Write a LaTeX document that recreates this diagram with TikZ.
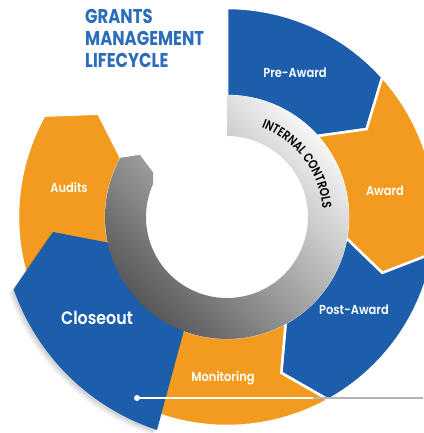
\documentclass[tikz,border=0pt]{standalone}
\usepackage{fontspec}
\setmainfont{Poppins}
\newfontfamily\labfont[FakeStretch=0.88]{Poppins SemiBold}
\newfontfamily\titlefont[FakeStretch=0.82]{Poppins}
\newfontfamily\ringfont[FakeStretch=0.8]{Poppins SemiBold}
\usetikzlibrary{decorations.text}
\definecolor{segblue}{HTML}{1C5EAC}
\definecolor{segorange}{HTML}{F39B1E}
\definecolor{titleblue}{HTML}{2B6DBA}
\definecolor{ringlight}{HTML}{F6F6F6}
\definecolor{ringmid}{HTML}{ABABAD}
\definecolor{ringdark}{HTML}{58585A}
\definecolor{linegray}{HTML}{B4B4B4}
\def\Rin{121pt}
\def\Rout{209pt}
\def\Rmid{165pt}
\def\Dt{9.8}
\newcommand\segment[3]{\path[seg,fill=#3] (#1:\Rout) arc[start angle=#1,end angle=#2,radius=\Rout] -- ({#2-\Dt}:\Rmid) -- (#2:\Rin) arc[start angle=#2,end angle=#1,radius=\Rin] -- ({#1-\Dt}:\Rmid) -- cycle;}
\newcommand\closeoutshape{(-70,-213) arc[start angle=251.8,end angle=199.3,radius=227pt] -- (-174,-15) -- (-117,-26) arc[start angle=192.5,end angle=248.7,radius=121pt] -- cycle}
\begin{document}
\begin{tikzpicture}[x=1pt,y=1pt,
  seg/.style={draw=white, line width=2.5pt, line join=miter},
  lab/.style={text=white, font=\labfont\fontsize{13}{15}\selectfont, inner sep=0pt}]
\useasboundingbox (-227,-216) rectangle (196,217);
% Pre-Award (flat start)
\path[seg,fill=segblue] (90:\Rout) arc[start angle=90,end angle=42,radius=\Rout] -- ({42-\Dt}:\Rmid) -- (42:\Rin) arc[start angle=42,end angle=90,radius=\Rin] -- cycle;
\segment{42}{-10}{segorange}
\segment{-10}{-61}{segblue}
\segment{-61}{-118}{segorange}
\segment{205}{151}{segorange}
% Closeout shadow and shape
\foreach \s/\o in {5/0.04,3.5/0.06,2/0.08}{
  \fill[black, opacity=\o, shift={(-\s,-\s)}] \closeoutshape;
}
\fill[segblue] \closeoutshape;
% Internal controls ring
\shade[top color=ringlight, middle color=ringmid, bottom color=ringdark, shading angle=-45]
  (90:122pt) arc[start angle=90,end angle=-209,radius=122pt] -- (144.5:107pt) -- (149:86pt) -- (156:81pt) arc[start angle=156,end angle=450,radius=81pt] -- cycle;
\path[decorate, decoration={text along path, text={|\ringfont\fontsize{13}{14}\selectfont|INTERNAL CONTROLS}, text align=center}]
  (76:96pt) arc[start angle=76,end angle=-2,radius=96pt];
% labels
\node[lab] (pre) at (68,144) {Pre-Award};
\node[lab] (award) at (158,26) {Award};
\node[lab] (post) at (127,-93) {Post-Award};
\node[lab] (mon) at (-4,-161) {Monitoring};
\node[lab] (aud) at (-158,30) {Audits};
\node[lab, font=\labfont\fontsize{18}{20}\selectfont] (close) at (-130,-101) {Closeout};
% title
\node[anchor=north west, inner sep=0pt, align=left, text=titleblue, font=\titlefont\bfseries\fontsize{20}{22}\selectfont] (title) at (-142,208) {GRANTS\\MANAGEMENT\\LIFECYCLE};
% pointer line
\coordinate (lineMid) at (86,-181);
\coordinate (lineEnd) at (196,-181);
\node[circle, fill=white, inner sep=0pt, minimum size=6pt] (dot) at (-90,-181) {};
\draw[white, line width=1.5pt] (dot.center) -- (lineMid);
\draw[linegray, line width=1.5pt] (lineMid) -- (lineEnd);
\end{tikzpicture}
\end{document}
